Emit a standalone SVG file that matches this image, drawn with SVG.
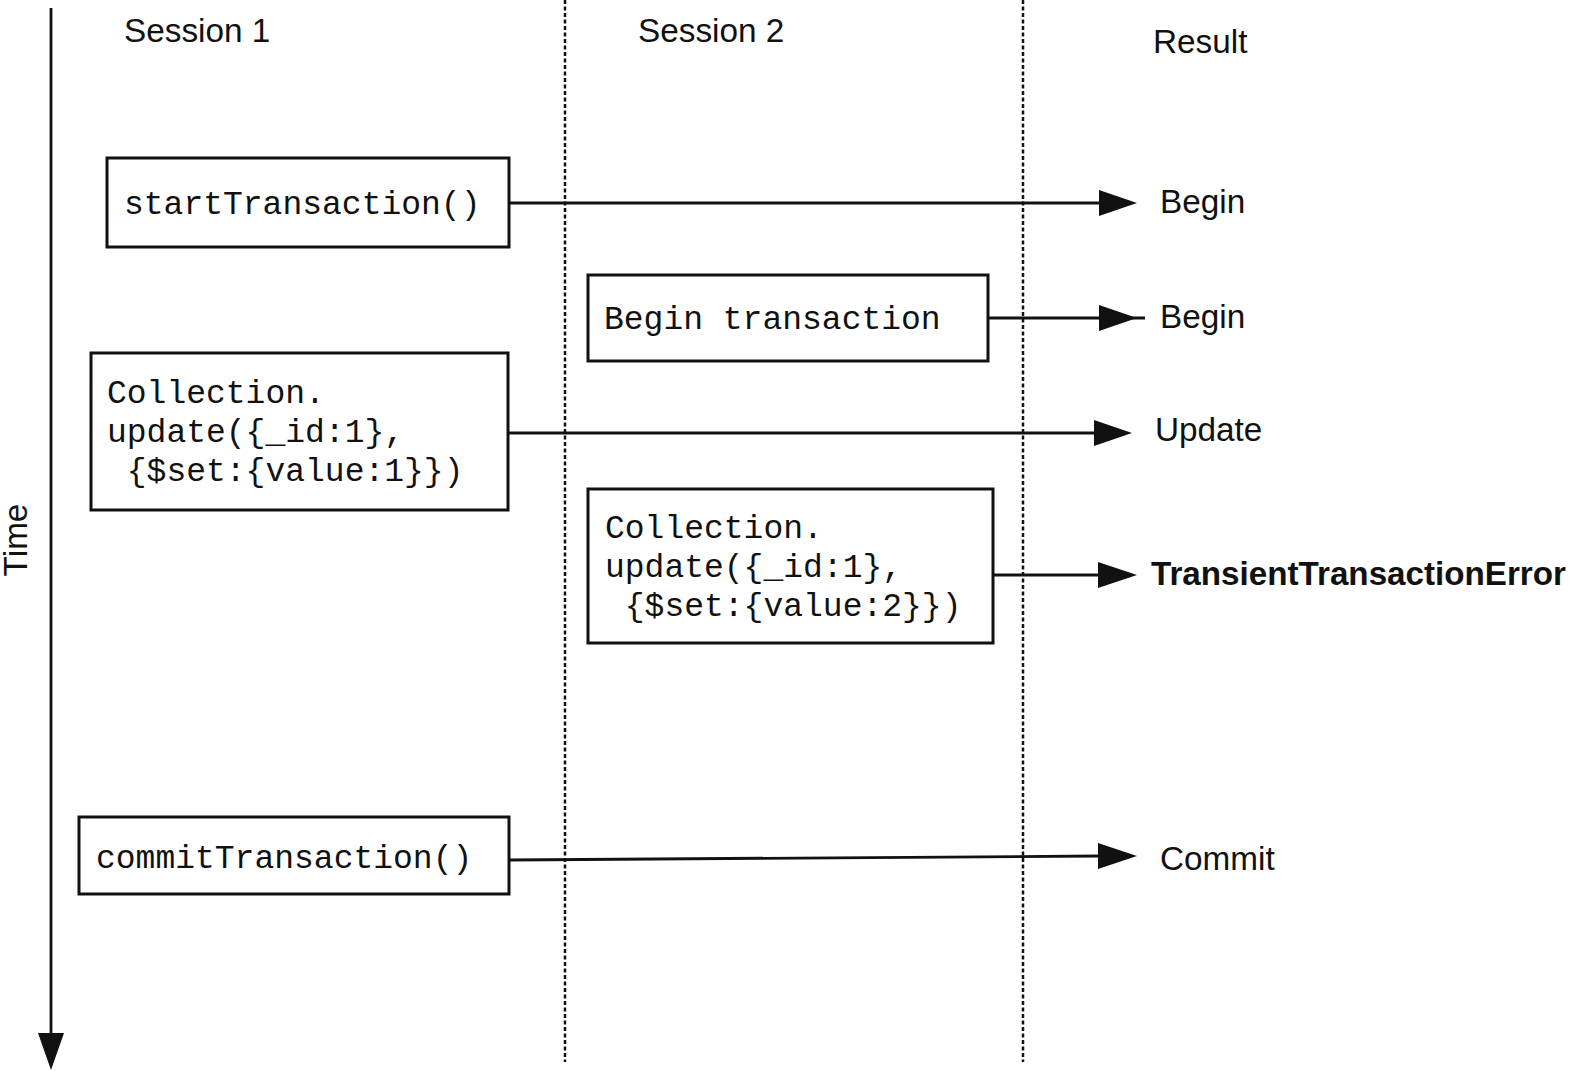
<svg xmlns="http://www.w3.org/2000/svg" width="1575" height="1071" viewBox="0 0 1575 1071">
<style>
.sans{font-family:"Liberation Sans",Arial,Helvetica,sans-serif;font-size:33.3px;fill:#111}
.bold{font-weight:bold;font-size:33.2px}
.mono{font-family:"Liberation Mono","Courier New",monospace;font-size:33px;fill:#111}
.box{fill:#fff;stroke:#111;stroke-width:3}
.ln{stroke:#111;stroke-width:2.8;fill:none}
.dot{stroke:#111;stroke-width:2.5;stroke-dasharray:4 2.5;fill:none}
.head{fill:#111;stroke:none}
</style>
<rect width="1575" height="1071" fill="#fff"/>
<g id="lanes">
<line class="dot" x1="565" y1="0" x2="565" y2="1062"/>
<line class="dot" x1="1023" y1="0" x2="1023" y2="1062"/>
</g>
<g id="time-axis">
<line class="ln" x1="51" y1="8" x2="51" y2="1036"/>
<polygon class="head" points="38,1033 64,1033 51,1070"/>
<text class="sans" transform="translate(27,540) rotate(-90)" text-anchor="middle" font-size="30">Time</text>
</g>
<g id="headers">
<text class="sans" x="124" y="42">Session 1</text>
<text class="sans" x="638" y="42">Session 2</text>
<text class="sans" x="1153" y="53">Result</text>
</g>
<g id="connectors">
<line class="ln" x1="509" y1="203" x2="1100" y2="203"/>
<polygon class="head" points="1099,190 1137,203 1099,216"/>
<line class="ln" x1="988" y1="318" x2="1145" y2="318"/>
<polygon class="head" points="1099,305 1137,318 1099,331"/>
<line class="ln" x1="508" y1="433" x2="1096" y2="433"/>
<polygon class="head" points="1094,420 1132,433 1094,446"/>
<line class="ln" x1="993" y1="575" x2="1100" y2="575"/>
<polygon class="head" points="1098,562 1137,575 1098,588"/>
<line class="ln" x1="509" y1="860" x2="1100" y2="856"/>
<polygon class="head" points="1098,843 1137,856 1098,869"/>
</g>
<g id="node-start">
<rect class="box" x="107" y="158" width="402" height="89"/>
<text class="mono" x="124" y="214">startTransaction()</text>
</g>
<g id="node-begin2">
<rect class="box" x="588" y="275" width="400" height="86"/>
<text class="mono" x="604" y="329">Begin transaction</text>
</g>
<g id="node-update1">
<rect class="box" x="91" y="353" width="417" height="157"/>
<text class="mono" x="107" y="403">Collection.</text>
<text class="mono" x="107" y="442">update({_id:1},</text>
<text class="mono" x="126.8" y="481">{$set:{value:1}})</text>
</g>
<g id="node-update2">
<rect class="box" x="588" y="489" width="405" height="154"/>
<text class="mono" x="605" y="538">Collection.</text>
<text class="mono" x="605" y="577">update({_id:1},</text>
<text class="mono" x="624.8" y="616">{$set:{value:2}})</text>
</g>
<g id="node-commit">
<rect class="box" x="79" y="817" width="430" height="77"/>
<text class="mono" x="96" y="868">commitTransaction()</text>
</g>
<g id="results">
<text class="sans" x="1160" y="213">Begin</text>
<text class="sans" x="1160" y="328">Begin</text>
<text class="sans" x="1155" y="441">Update</text>
<text class="sans bold" x="1151" y="585">TransientTransactionError</text>
<text class="sans" x="1160" y="870">Commit</text>
</g>
</svg>
